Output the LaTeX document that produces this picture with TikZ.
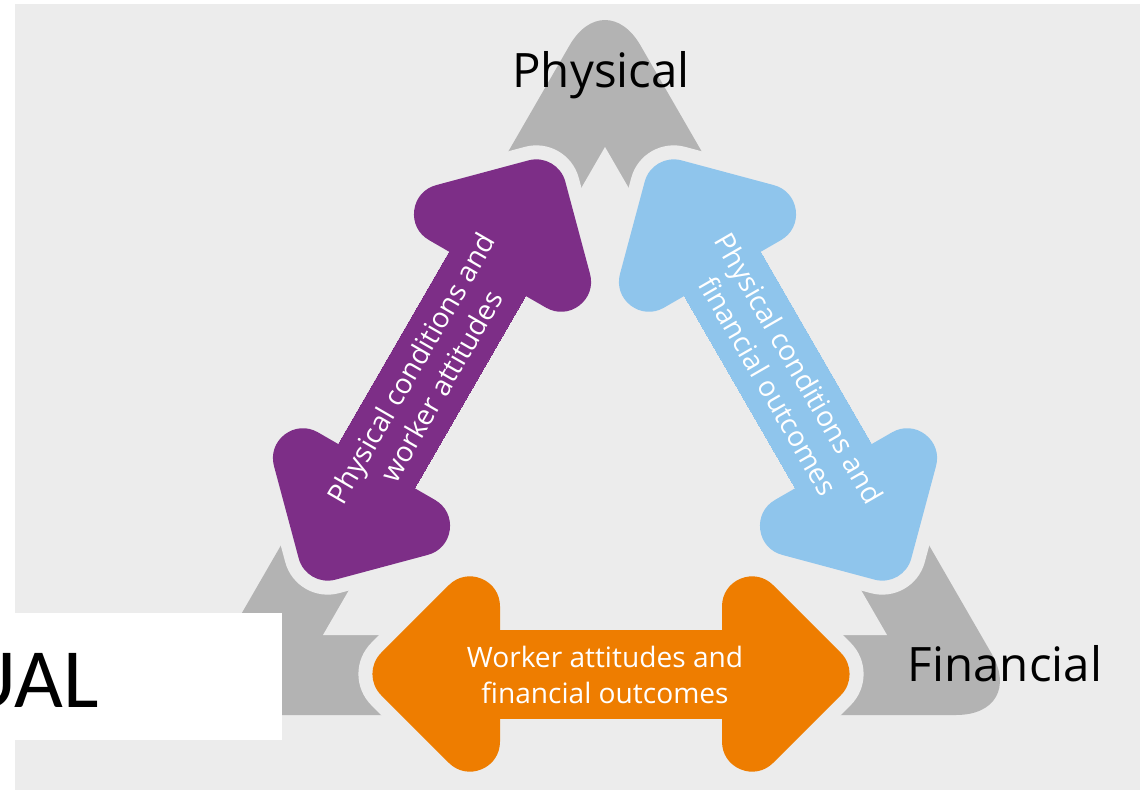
\documentclass[tikz,border=0pt]{standalone}
\usepackage{fontspec}
\setmainfont{Open Sans}
\newfontfamily\slidefont{Carlito}

\definecolor{panel}{HTML}{ECECEC}
\definecolor{ring}{HTML}{B3B3B3}
\definecolor{purp}{HTML}{7D2E87}
\definecolor{skyb}{HTML}{8FC5EC}
\definecolor{orng}{HTML}{EE7D00}

% shaft and both heads, along x, centred on 0
% (heads: a smaller triangle stroked with round joins gives the round corners)
\newcommand{\arrowparts}[2]{%
  \path[#1,line width=#2] (-113,-44) rectangle (113,44);
  \path[#1,line width=1.2cm+#2,line join=round] (141,67.6) -- (208.6,0) -- (141,-67.6) -- cycle;
  \path[#1,line width=1.2cm+#2,line join=round] (-141,67.6) -- (-208.6,0) -- (-141,-67.6) -- cycle;
}

\begin{document}
\begin{tikzpicture}[x=0.02cm,y=-0.02cm,
        cornerlabel/.style={font=\fontsize{27}{31}\selectfont,inner sep=0pt},
        inarrow/.style={font=\fontsize{16}{20}\selectfont,text=white,align=center,inner sep=0pt}]
        \useasboundingbox (0,0) rectangle (1148,790);

        % Panel
        \fill[white] (0,0) rectangle (1148,790);
        \fill[panel] (15,4) rectangle (1140,790);

        % Grey triangle
        \fill[ring,rounded corners=1.42cm] (605,-16) -- (1027,715) -- (183,715) -- cycle;
        \fill[panel] (605,147) -- (887,635) -- (323,635) -- cycle;

        % Double arrows
        \foreach \col/\ang/\cx/\cy in {orng/0/611/674, purp/60/432/370, skyb/-60/778/370}{
          \begin{scope}[shift={(\cx,\cy)},rotate=\ang]
            \arrowparts{draw=panel}{0.56cm}
            \arrowparts{fill=\col,draw=\col}{0pt}
          \end{scope}
        }

        \node[inarrow,rotate=60] (physwork) at (426,377) {Physical conditions and\\worker attitudes};
        \node[inarrow,rotate=-60] (physfin) at (784,377) {Physical conditions and\\financial outcomes};
        \node[inarrow] (workfin) at (605,675) {Worker attitudes and\\financial outcomes};

        % Corners
        \node[cornerlabel] (physical) at (601,75) {Physical};
        \node[cornerlabel] (financial) at (1005,664) {Financial};

        % Slide box
        \fill[white] (0,613) rectangle (282,740);
        \node[anchor=base west,inner sep=0pt,font=\slidefont\fontsize{48}{54}\selectfont] (ual) at (-38,707) {UAL};
\end{tikzpicture}
\end{document}
